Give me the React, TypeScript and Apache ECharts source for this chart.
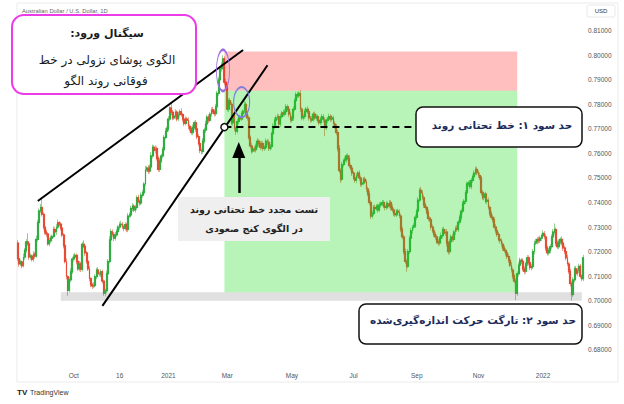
import { useEffect, useRef } from 'react';
import * as echarts from 'echarts';

// AUD/USD daily (prices in pips, 7172 = 0.7172)
const startDate = '2020-08-07';
const firstOpen = 7235;

const closes = [
    7172, 7150, 7158, 7142, 7178, 7205, 7240, 7232, 7178, 7182,
    7168, 7190, 7182, 7250, 7318, 7366, 7380, 7352, 7300, 7280,
    7272, 7232, 7244, 7255, 7262, 7290, 7280, 7300, 7318, 7312,
    7296, 7268, 7225, 7160, 7098, 7042, 7085, 7118, 7170, 7178,
    7185, 7160, 7130, 7150, 7128, 7230, 7222, 7195, 7160, 7130,
    7090, 7065, 7060, 7062, 7098, 7125, 7110, 7108, 7118, 7080,
    7030, 7040, 7110, 7160, 7248, 7282, 7270, 7255, 7268, 7282,
    7300, 7310, 7312, 7300, 7295, 7310, 7290, 7345, 7350, 7376,
    7385, 7370, 7380, 7420, 7405, 7398, 7430, 7440, 7475, 7535,
    7540, 7528, 7545, 7590, 7625, 7612, 7620, 7580, 7535, 7570,
    7590, 7615, 7665, 7690, 7700, 7740, 7785, 7768, 7745, 7752,
    7768, 7740, 7760, 7770, 7758, 7740, 7722, 7740, 7735, 7710,
    7700, 7685, 7705, 7725, 7700, 7668, 7640, 7612, 7608, 7650,
    7695, 7720, 7748, 7735, 7760, 7778, 7770, 7762, 7790, 7845,
    7900, 7945, 7960, 7985, 7890, 7870, 7780, 7815, 7800, 7725,
    7760, 7700, 7690, 7730, 7745, 7740, 7762, 7772, 7800, 7760,
    7745, 7665, 7630, 7610, 7618, 7615, 7630, 7650, 7640, 7625,
    7640, 7620, 7625, 7650, 7645, 7620, 7628, 7680, 7710, 7735,
    7745, 7750, 7720, 7750, 7765, 7760, 7770, 7790, 7780, 7760,
    7735, 7745, 7780, 7815, 7840, 7835, 7845, 7780, 7745, 7750,
    7770, 7780, 7770, 7745, 7735, 7740, 7760, 7745, 7750, 7735,
    7725, 7740, 7750, 7735, 7705, 7735, 7740, 7750, 7740, 7745,
    7720, 7710, 7685, 7620, 7530, 7495, 7555, 7570, 7575, 7590,
    7580, 7550, 7540, 7520, 7500, 7490, 7510, 7520, 7500, 7475,
    7480, 7495, 7485, 7455, 7435, 7400, 7345, 7355, 7380, 7375,
    7385, 7370, 7390, 7395, 7400, 7385, 7380, 7395, 7385, 7400,
    7380, 7370, 7355, 7350, 7365, 7360, 7345, 7290, 7260, 7200,
    7160, 7140, 7200, 7255, 7285, 7300, 7305, 7340, 7365, 7410,
    7450, 7440, 7420, 7390, 7380, 7360, 7335, 7330, 7300, 7285,
    7270, 7260, 7240, 7235, 7255, 7265, 7290, 7275, 7280, 7235,
    7200, 7240, 7260, 7250, 7280, 7295, 7290, 7320, 7340, 7365,
    7395, 7405, 7440, 7475, 7480, 7465, 7490, 7505, 7520, 7535,
    7522, 7510, 7500, 7440, 7420, 7435, 7405, 7410, 7380, 7355,
    7340, 7330, 7300, 7285, 7270, 7250, 7245, 7230, 7215, 7205,
    7195, 7180, 7165, 7145, 7125, 7100, 7080, 7030, 7110, 7145,
    7165, 7160, 7130, 7120, 7150, 7175, 7155, 7135, 7140, 7200,
    7235, 7240, 7250, 7245, 7255, 7265, 7275, 7260, 7215, 7195,
    7205, 7220, 7260, 7280, 7290, 7235, 7220, 7240, 7250, 7235,
    7215, 7200, 7175, 7150, 7120, 7070, 7025, 7085, 7130, 7110,
    7125, 7140, 7100, 7090, 7175
];

// wick lengths above / below the body, pips
const upWicks = [
    12, 8, 10, 6, 14, 9, 11, 35, 7, 10,
    6, 12, 8, 15, 10, 9, 14, 34, 8, 11,
    9, 7, 12, 10, 8, 14, 9, 11, 13, 6,
    8, 10, 7, 9, 12, 6, 11, 14, 9, 12,
    10, 7, 9, 12, 8, 10, 16, 8, 7, 9,
    11, 6, 8, 13, 10, 9, 12, 7, 10, 8,
    6, 9, 12, 10, 15, 11, 8, 9, 12, 10,
    8, 11, 14, 9, 7, 10, 8, 12, 9, 11,
    13, 8, 10, 9, 12, 7, 11, 10, 8, 14,
    9, 12, 10, 15, 11, 8, 13, 9, 10, 12,
    8, 11, 10, 14, 9, 12, 10, 20, 9, 11,
    12, 8, 10, 9, 13, 7, 10, 11, 8, 12,
    9, 10, 12, 8, 11, 9, 10, 7, 8, 12,
    10, 13, 9, 11, 8, 10, 12, 9, 11, 10,
    12, 9, 11, 15, 10, 14, 12, 9, 11, 10,
    13, 8, 10, 11, 9, 12, 10, 8, 14, 11,
    9, 10, 8, 12, 9, 11, 10, 13, 8, 9,
    12, 10, 8, 11, 9, 12, 10, 8, 13, 11,
    9, 12, 10, 11, 8, 14, 10, 12, 9, 11,
    10, 8, 12, 9, 11, 10, 9, 12, 8, 10,
    11, 9, 12, 10, 8, 13, 9, 11, 10, 8,
    12, 9, 11, 10, 13, 8, 9, 12, 10, 11,
    9, 12, 10, 11, 14, 10, 12, 9, 11, 8,
    10, 13, 9, 11, 8, 12, 10, 9, 11, 10,
    12, 9, 11, 8, 10, 13, 9, 11, 10, 12,
    8, 10, 12, 9, 11, 10, 8, 12, 9, 11,
    10, 12, 9, 11, 8, 10, 12, 9, 11, 10,
    13, 9, 11, 10, 12, 8, 10, 11, 9, 12,
    10, 14, 9, 11, 10, 8, 12, 9, 11, 10,
    12, 9, 10, 11, 8, 13, 9, 11, 10, 12,
    9, 11, 10, 12, 8, 10, 13, 9, 11, 10,
    12, 9, 11, 10, 8, 12, 10, 9, 11, 12,
    10, 9, 12, 8, 11, 10, 9, 12, 10, 8,
    11, 10, 9, 12, 8, 10, 11, 9, 12, 10,
    9, 11, 10, 8, 12, 10, 9, 11, 10, 12,
    11, 9, 12, 10, 8, 11, 10, 12, 9, 11,
    10, 12, 9, 11, 10, 8, 12, 9, 11, 10,
    9, 11, 10, 12, 25, 9, 11, 10, 8, 12,
    10, 9, 11, 12, 8, 10, 9, 11, 10, 12,
    9, 11, 10, 8, 12
];

const downWicks = [
    9, 12, 8, 10, 7, 11, 9, 8, 12, 10,
    8, 9, 11, 7, 10, 12, 8, 9, 10, 11,
    12, 8, 10, 9, 11, 7, 10, 12, 8, 9,
    10, 9, 12, 8, 11, 22, 9, 10, 8, 11,
    9, 12, 8, 10, 11, 9, 8, 12, 10, 9,
    11, 10, 12, 9, 8, 10, 11, 9, 12, 10,
    11, 12, 9, 10, 8, 11, 9, 12, 10, 8,
    9, 11, 10, 8, 12, 9, 10, 11, 8, 10,
    12, 9, 11, 10, 8, 12, 9, 10, 11, 8,
    10, 12, 9, 11, 10, 8, 12, 9, 10, 11,
    9, 10, 12, 8, 11, 10, 9, 12, 10, 8,
    11, 10, 9, 12, 8, 10, 11, 9, 10, 12,
    10, 9, 11, 8, 12, 10, 9, 11, 12, 10,
    9, 12, 10, 11, 8, 10, 9, 12, 10, 11,
    10, 9, 12, 8, 11, 10, 9, 12, 10, 11,
    12, 10, 15, 9, 11, 10, 8, 12, 9, 10,
    11, 9, 10, 12, 8, 10, 11, 9, 12, 10,
    9, 11, 10, 8, 12, 10, 9, 11, 10, 12,
    10, 9, 11, 12, 8, 10, 9, 11, 10, 12,
    9, 10, 12, 8, 11, 10, 9, 12, 10, 11,
    10, 11, 9, 12, 10, 8, 11, 10, 12, 9,
    11, 10, 12, 9, 35, 10, 11, 9, 12, 10,
    10, 9, 11, 12, 10, 15, 9, 11, 10, 12,
    9, 11, 10, 12, 8, 10, 11, 9, 12, 10,
    11, 10, 9, 12, 10, 11, 12, 10, 9, 11,
    10, 12, 9, 11, 10, 8, 12, 10, 11, 9,
    12, 10, 11, 9, 10, 12, 9, 11, 10, 12,
    10, 22, 9, 11, 10, 12, 10, 9, 11, 10,
    9, 11, 10, 12, 10, 9, 11, 10, 12, 9,
    10, 12, 9, 11, 10, 9, 12, 10, 11, 14,
    12, 10, 11, 9, 10, 12, 9, 11, 10, 12,
    10, 9, 11, 12, 10, 9, 11, 10, 12, 9,
    11, 10, 9, 12, 10, 11, 9, 12, 10, 11,
    10, 12, 9, 11, 10, 9, 12, 10, 11, 9,
    12, 10, 11, 9, 10, 12, 9, 28, 10, 11,
    9, 11, 10, 12, 10, 9, 11, 10, 12, 10,
    11, 9, 10, 12, 10, 11, 9, 10, 12, 11,
    10, 12, 9, 11, 10, 12, 10, 9, 11, 10,
    12, 10, 11, 9, 10, 12, 25, 10, 11, 9,
    10, 12, 9, 11, 10
];

const xTickDates = ['2020-10-01', '2020-11-16', '2021-01-01', '2021-03-01', '2021-05-03', '2021-07-01', '2021-09-01', '2021-11-01', '2022-01-03'];
const xTickLabels = ['Oct', '16', '2021', 'Mar', 'May', 'Jul', 'Sep', 'Nov', '2022'];

// annotation anchors: [candle index, price]
const upperTrend = [[14, 0.7406], [157, 0.8021]];
const lowerTrend = [[59, 0.6979], [174, 0.7959]];
const breakLevel = [[144, 0.7707], [277, 0.7707]];
const retestArrow = [[154, 0.7439], [154, 0.7614]];
const engulfMark = [143, 0.7938];
const retestMark = [156, 0.7809];
const stopZone = { from: 144, to: 348, top: 0.8015, bottom: 0.7855 };
const targetZone = { from: 144, to: 348, top: 0.7855, bottom: 0.7035 };
const supportBand = { from: 30, to: 393, top: 0.7035, bottom: 0.7 };

const fa = "'DejaVu Sans', sans-serif";
const latin = "'Liberation Sans', Arial, sans-serif";

function tradingDays(start: string, count: number) {
    const out: string[] = [];
    const d = new Date(start + 'T00:00:00Z');
    while (out.length < count) {
        const wd = d.getUTCDay();
        if (wd !== 0 && wd !== 6) out.push(d.toISOString().slice(0, 10));
        d.setUTCDate(d.getUTCDate() + 1);
    }
    return out;
}

const rect = (x: number, y: number, w: number, h: number, r: number, fill: string, stroke: string, lw: number, z = 100) => ({
    type: 'rect', z, silent: true,
    shape: { x, y, width: w, height: h, r },
    style: { fill, stroke, lineWidth: lw }
});

const label = (text: string, x: number, y: number, size: number, weight: string, color: string, family = fa, align = 'center') => ({
    type: 'text', z: 101, silent: true, x, y,
    style: { text, fontSize: size, fontWeight: weight, fontFamily: family, fill: color, align, verticalAlign: 'middle' }
});

const App = () => {
    const chartRef = useRef<HTMLDivElement>(null);

    useEffect(() => {
        if (!chartRef.current) return;
        const chart = echarts.init(chartRef.current, null, { renderer: 'svg' });

        const dates = tradingDays(startDate, closes.length);
        const p = (v: number) => v / 10000;
        const full: number[][] = [];
        const bodies: number[][] = [];
        closes.forEach((c, i) => {
            const o = i === 0 ? firstOpen : closes[i - 1];
            const hi = Math.max(o, c);
            const lo = Math.min(o, c);
            full.push([p(o), p(c), p(lo - downWicks[i]), p(hi + upWicks[i])]);
            bodies.push([p(o), p(c), p(lo), p(hi)]);
        });

        const ticks: Record<string, string> = {};
        xTickDates.forEach((d, i) => { ticks[d] = xTickLabels[i]; });

        const zone = (z: { from: number; to: number; top: number; bottom: number }, color: string) => [
            { xAxis: z.from, yAxis: z.top, itemStyle: { color } },
            { xAxis: z.to, yAxis: z.bottom }
        ];
        const seg = (pts: number[][], style: object, endSymbol?: object) => [
            { coord: pts[0], lineStyle: style },
            { coord: pts[1], ...(endSymbol || {}) }
        ];

        chart.setOption({
            animation: false,
            backgroundColor: '#ffffff',
            grid: { left: 17, right: 40, top: 6.1, bottom: 29.6 },
            xAxis: {
                type: 'category',
                data: dates,
                boundaryGap: true,
                offset: -4.5,
                axisLine: { show: false },
                axisTick: { show: false },
                splitLine: { show: false },
                axisLabel: {
                    margin: 2,
                    fontSize: 6.5,
                    color: '#555',
                    fontFamily: latin,
                    interval: (_: number, v: string) => v in ticks,
                    formatter: (v: string) => ticks[v] || ''
                }
            },
            yAxis: {
                type: 'value',
                position: 'right',
                min: 0.67,
                max: 0.82,
                interval: 0.01,
                axisLine: { show: false },
                axisTick: { show: false },
                splitLine: { show: false },
                axisLabel: {
                    margin: 4,
                    fontSize: 6.5,
                    color: '#555',
                    fontFamily: latin,
                    showMinLabel: false,
                    showMaxLabel: false,
                    formatter: (v: number) => v.toFixed(5)
                }
            },
            series: [
                {
                    name: 'wicks',
                    type: 'candlestick',
                    z: 2,
                    data: full,
                    barWidth: 1,
                    silent: true,
                    itemStyle: { color: '#94d294', color0: '#ee9c8a', borderColor: '#94d294', borderColor0: '#ee9c8a', borderWidth: 1 }
                },
                {
                    name: 'AUDUSD',
                    type: 'candlestick',
                    z: 3,
                    data: bodies,
                    barWidth: 1.4,
                    silent: true,
                    itemStyle: { color: '#30ad40', color0: '#e64b34', borderColor: '#30ad40', borderColor0: '#e64b34', borderWidth: 1.2 },
                    markArea: {
                        z: 4,
                        silent: true,
                        label: { show: false },
                        data: [
                            zone(stopZone, 'rgba(255,0,0,0.25)'),
                            zone(targetZone, 'rgba(20,220,20,0.3)'),
                            zone(supportBand, 'rgba(130,130,130,0.25)')
                        ]
                    },
                    markLine: {
                        z: 6,
                        silent: true,
                        symbol: ['none', 'none'],
                        label: { show: false },
                        emphasis: { disabled: true },
                        data: [
                            seg(upperTrend, { color: '#000', width: 2, type: 'solid' }),
                            seg(lowerTrend, { color: '#000', width: 2, type: 'solid' }),
                            seg(breakLevel, { color: '#000', width: 2, type: [7, 5] }),
                            seg(retestArrow, { color: '#000', width: 2.5, type: 'solid' }, { symbol: 'triangle', symbolSize: [13, 16] })
                        ]
                    },
                    markPoint: {
                        z: 7,
                        silent: true,
                        label: { show: false },
                        data: [
                            { coord: engulfMark, symbol: 'circle', symbolSize: [13, 41], itemStyle: { color: 'rgba(0,0,0,0)', borderColor: '#9b6fe0', borderWidth: 1.5 } },
                            { coord: retestMark, symbol: 'circle', symbolSize: [16, 30], itemStyle: { color: 'rgba(0,0,0,0)', borderColor: '#7b7fdd', borderWidth: 1.5 } },
                            { coord: breakLevel[0], symbol: 'circle', symbolSize: 7, itemStyle: { color: '#ffffff', borderColor: '#111', borderWidth: 1.5 } }
                        ]
                    }
                }
            ],
            graphic: [
                rect(17, 3, 601, 379, 0, 'rgba(0,0,0,0)', '#ebebeb', 1, 0),
                label('Australian Dollar / U.S. Dollar, 1D', 22, 11, 5.8, 'normal', '#666', latin, 'left'),
                rect(587, 5, 28, 12, 2, '#fff', '#e2e2e2', 0.8),
                label('USD', 601, 11, 6, 'normal', '#333', latin),
                // entry signal box
                rect(12, 15, 184, 79, 12, '#ffffff', '#ee3be8', 2),
                label('سیگنال ورود:\u200F', 107, 33, 11, 'bold', '#1a1a1a'),
                label('الگوی پوشای نزولی در خط', 107, 60, 12, 'normal', '#1a1a1a'),
                label('فوقانی روند الگو', 106, 81, 12, 'normal', '#1a1a1a'),
                // retest box
                rect(178, 197, 152, 44, 0, '#efefef', 'rgba(0,0,0,0)', 0),
                label('تست مجدد خط تحتانی روند', 254, 209, 9.5, 'bold', '#222'),
                label('در الگوی کنج صعودی', 254, 228, 9.5, 'bold', '#222'),
                // target boxes
                rect(416, 107, 166, 40, 7, '#ffffff', '#111', 1.5),
                label('حد سود ۱: خط تحتانی روند', 502, 125, 10.5, 'bold', '#1c2b5a'),
                rect(359, 304, 223, 40, 7, '#ffffff', '#111', 1.5),
                label('حد سود ۲: تارگت حرکت اندازه\u200Cگیری\u200Cشده', 473, 320, 10.5, 'bold', '#1c2b5a'),
                // footer
                label('TV', 17, 392, 8, 'bold', '#131722', latin, 'left'),
                label('TradingView', 30, 392, 7, 'normal', '#333', latin, 'left')
            ]
        });

        return () => {
            chart.dispose();
        };
    }, []);

    return <div ref={chartRef} style={{ position: 'fixed', left: 0, top: 0, width: 624, height: 404, background: '#fff' }} />;
};

export default App;
